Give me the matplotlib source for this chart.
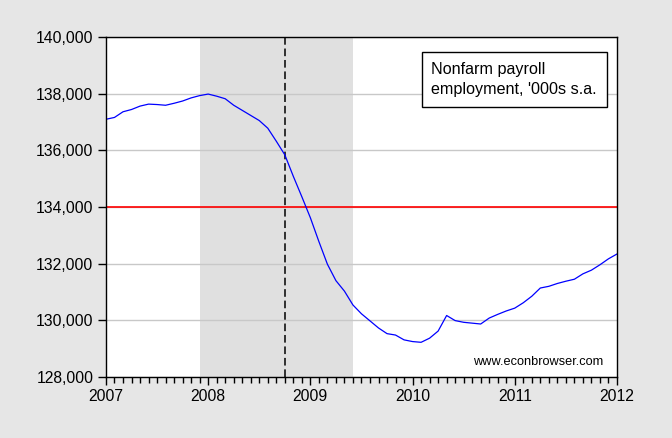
"""
Nonfarm payroll employment, 2007-2012, with NBER recession shading.
"""

import matplotlib
matplotlib.use("Agg")
import matplotlib.pyplot as plt
from matplotlib.ticker import StrMethodFormatter, MultipleLocator

# ----------------------------------------------------------------------
# DATA  (thousands, s.a., monthly from 2007M01 to 2012M01)
# ----------------------------------------------------------------------
start_year = 2007
payrolls = [
    137095, 137160, 137360, 137440, 137560, 137630, 137615, 137590,
    137660, 137740, 137850, 137930,                                  # 2007
    137985, 137910, 137820, 137590, 137410, 137230, 137050, 136780,
    136320, 135840, 135080, 134360,                                  # 2008
    133620, 132780, 131980, 131400, 131030, 130540, 130230, 129980,
    129730, 129530, 129480, 129310,                                  # 2009
    129250, 129224, 129370, 129620, 130170, 129990, 129930, 129900,
    129870, 130080, 130210, 130330,                                  # 2010
    130430, 130620, 130850, 131140, 131200, 131300, 131380, 131450,
    131640, 131770, 131960, 132170,                                  # 2011
    132340,                                                          # 2012M01
]
recession = (2007 + 11 / 12, 2009 + 5 / 12)   # Dec 2007 - Jun 2009
event_date = 2008 + 9 / 12                      # Oct 2008 (dashed line)
threshold = 134000                              # red reference line

label_text = "Nonfarm payroll\nemployment, '000s s.a."
credit = "www.econbrowser.com"

dates = [start_year + i / 12 for i in range(len(payrolls))]

# ----------------------------------------------------------------------
# PLOT
# ----------------------------------------------------------------------
plt.rcParams["font.family"] = ["Liberation Sans", "DejaVu Sans"]

fig = plt.figure(figsize=(6.72, 4.38), dpi=100, facecolor="#e6e6e6")
ax = fig.add_axes([0.1577, 0.1393, 0.7604, 0.7763])
ax.set_facecolor("white")

ax.axvspan(*recession, color="#e0e0e0", lw=0, zorder=0)
ax.yaxis.grid(True, color="#c8c8c8", lw=1.0, zorder=1)
ax.axhline(threshold, color="red", lw=1.2, zorder=2)
ax.axvline(event_date, color="black", lw=1.1, ls=(0, (5, 2.5)), zorder=3)
ax.plot(dates, payrolls, color="#0000ff", lw=0.9, zorder=4)

ax.set_xlim(2007, 2012)
ax.set_ylim(128000, 140000)
ax.xaxis.set_major_locator(MultipleLocator(1))
ax.xaxis.set_minor_locator(MultipleLocator(1 / 12))
ax.xaxis.set_major_formatter(StrMethodFormatter("{x:.0f}"))
ax.yaxis.set_major_locator(MultipleLocator(2000))
ax.yaxis.set_major_formatter(StrMethodFormatter("{x:,.0f}"))

ax.tick_params(axis="both", which="major", direction="out", length=6,
               width=1, labelsize=11.3, color="black", pad=3)
ax.tick_params(axis="x", which="minor", direction="out", length=4, width=1)
for s in ax.spines.values():
    s.set_linewidth(1.0)
    s.set_zorder(5)

# ---------- annotations -----------------------------------------------
ax.text(0.637, 0.926, label_text, transform=ax.transAxes, fontsize=11.6,
        va="top", ha="left", linespacing=1.4,
        bbox=dict(boxstyle="square,pad=0.6", fc="white", ec="black", lw=1))
ax.text(0.9735, 0.035, credit, transform=ax.transAxes, fontsize=9.2,
        va="baseline", ha="right")

fig.savefig("out.png", dpi=100, facecolor=fig.get_facecolor())
